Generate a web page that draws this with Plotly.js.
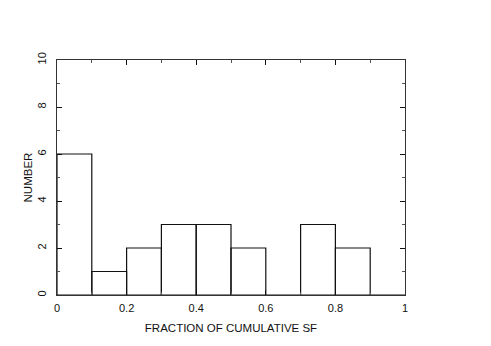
<!DOCTYPE html>
<html>
<head>
<meta charset="utf-8">
<script src="https://cdn.plot.ly/plotly-3.0.1.min.js"></script>
<style>
  body { margin: 0; background: #fff; }
  #plot { width: 491px; height: 346px; }
</style>
</head>
<body>
<div id="plot"></div>
<script>
// histogram bins (centres) and counts
const binCentres = [0.05, 0.15, 0.25, 0.35, 0.45, 0.55, 0.65, 0.75, 0.85, 0.95];
const counts = [6, 1, 2, 3, 3, 2, 0, 3, 2, 0];
const xTicks = [0, 0.2, 0.4, 0.6, 0.8, 1];
const xTickText = ['0', '0.2', '0.4', '0.6', '0.8', '1'];
const yTicks = [0, 2, 4, 6, 8, 10];

let bars = {
    type: 'bar',
    x: binCentres,
    y: counts,
    width: 0.1,
    marker: {
        color: 'rgba(0,0,0,0)',
        line: { color: '#111', width: 1.2 }
    },
    hoverinfo: 'none'
};

const axisFont = { family: 'Liberation Sans, Arial, sans-serif', size: 11, color: '#111' };
const titleFont = { family: 'Liberation Sans, Arial, sans-serif', size: 11.5, color: '#111' };

const layout = {
    width: 491,
    height: 346,
    margin: { l: 57, r: 86, t: 60, b: 51 },
    paper_bgcolor: '#fff',
    plot_bgcolor: '#fff',
    showlegend: false,
    bargap: 0,
    xaxis: {
        range: [0, 1],
        tickvals: xTicks,
        ticktext: xTickText,
        ticks: 'inside',
        ticklen: 5,
        tickcolor: '#111',
        minor: { dtick: 0.1, ticks: 'inside', ticklen: 3, tickcolor: '#555' },
        showline: true,
        linecolor: '#333',
        linewidth: 1,
        mirror: 'ticks',
        showgrid: false,
        zeroline: false,
        tickfont: axisFont,
        ticklabelstandoff: 3,
        title: { text: 'FRACTION OF CUMULATIVE SF', font: titleFont, standoff: 10 }
    },
    yaxis: {
        range: [0, 10],
        tickvals: yTicks,
        ticks: 'inside',
        ticklen: 5,
        tickcolor: '#111',
        minor: { dtick: 1, ticks: 'inside', ticklen: 3, tickcolor: '#555' },
        tickangle: -90,
        showline: true,
        linecolor: '#333',
        linewidth: 1,
        mirror: 'ticks',
        showgrid: false,
        zeroline: false,
        tickfont: axisFont,
        ticklabelstandoff: 6,
        title: { text: 'NUMBER', font: titleFont, standoff: 0 }
    }
};

Plotly.newPlot('plot', [bars], layout, { displayModeBar: false, staticPlot: true });
</script>
</body>
</html>
